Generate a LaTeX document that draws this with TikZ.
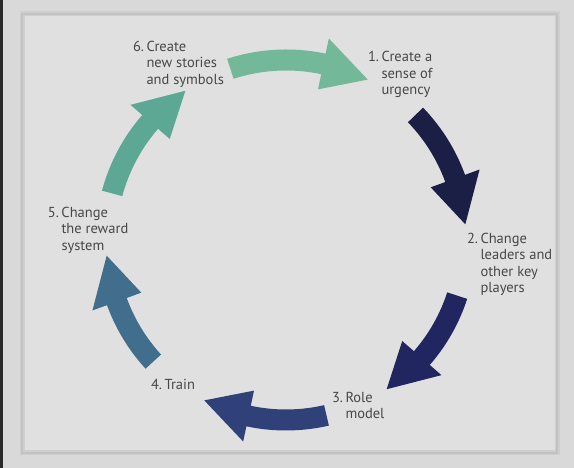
\documentclass[tikz,border=0pt]{standalone}
\usepackage{fontspec}
\setmainfont{PT Sans}
\usetikzlibrary{positioning}

\begin{document}
\begin{tikzpicture}[x=1pt,y=1pt]
\definecolor[named]{fillColor}{rgb}{0.85,0.85,0.85}
\path[use as bounding box,fill=fillColor] (0,0) rectangle (574,468);
\definecolor[named]{fillColor}{rgb}{0.16,0.16,0.16}
\path[fill=fillColor] (0,0) rectangle (2.5,468);
\begin{scope}
\definecolor[named]{drawColor}{rgb}{0.81,0.81,0.81}
\definecolor[named]{fillColor}{rgb}{0.88,0.88,0.88}

\path[draw=drawColor,line width= 5pt,fill=fillColor] ( 22.00, 15.00) rectangle (557.00,454.00);
\definecolor[named]{drawColor}{rgb}{0.76,0.76,0.76}

\path[draw=drawColor,line width= 1.2pt] ( 22.00, 15.00) rectangle (557.00,454.00);
\end{scope}
\begin{scope}[shift={(286,228)}]
\definecolor[named]{fillColor}{rgb}{0.45,0.72,0.60}

\path[fill=fillColor] (108:190.5) arc[start angle=108,end angle=78,radius=190.5] -- (78:206) -- (63:180) -- (78:154) -- (78:169.5) arc[start angle=78,end angle=108,radius=169.5] -- cycle;
\definecolor[named]{fillColor}{rgb}{0.11,0.12,0.27}

\path[fill=fillColor] (44:190.5) arc[start angle=44,end angle=20,radius=190.5] -- (20:206) -- (5:180) -- (20:154) -- (20:169.5) arc[start angle=20,end angle=44,radius=169.5] -- cycle;
\definecolor[named]{fillColor}{rgb}{0.13,0.15,0.38}

\path[fill=fillColor] (-18:190.5) arc[start angle=-18,end angle=-41,radius=190.5] -- (-41:206) -- (-56:180) -- (-41:154) -- (-41:169.5) arc[start angle=-41,end angle=-18,radius=169.5] -- cycle;
\definecolor[named]{fillColor}{rgb}{0.19,0.25,0.47}

\path[fill=fillColor] (-77:190.5) arc[start angle=-77,end angle=-102,radius=190.5] -- (-102:206) -- (-117:180) -- (-102:154) -- (-102:169.5) arc[start angle=-102,end angle=-77,radius=169.5] -- cycle;
\definecolor[named]{fillColor}{rgb}{0.25,0.43,0.55}

\path[fill=fillColor] (222.5:190.5) arc[start angle=222.5,end angle=200,radius=190.5] -- (200:206) -- (185:180) -- (200:154) -- (200:169.5) arc[start angle=200,end angle=222.5,radius=169.5] -- cycle;
\definecolor[named]{fillColor}{rgb}{0.36,0.66,0.58}

\path[fill=fillColor] (165:190.5) arc[start angle=165,end angle=139,radius=190.5] -- (139:206) -- (124:180) -- (139:154) -- (139:169.5) arc[start angle=139,end angle=165,radius=169.5] -- cycle;
\end{scope}
\begin{scope}
\definecolor[named]{drawColor}{rgb}{0.28,0.28,0.28}
\tikzset{stage/.style={text=drawColor,anchor=base west,inner sep=0pt,outer sep=0pt,font=\fontsize{14.5}{16.5}\selectfont}}

\node[stage] (lab1) at (368.00,406.00) {\begin{tabular}[t]{@{}p{13.5pt}@{}l@{}}1.&Create a\\&sense of\\&urgency\end{tabular}};

\node[stage] (lab2) at (467.00,224.50) {\begin{tabular}[t]{@{}p{13.5pt}@{}l@{}}2.&Change\\&leaders and\\&other key\\&players\end{tabular}};

\node[stage] (lab3) at (332.00, 65.50) {\begin{tabular}[t]{@{}p{13.5pt}@{}l@{}}3.&Role\\&model\end{tabular}};

\node[stage] (lab4) at (151.00, 78.50) {\begin{tabular}[t]{@{}p{13.5pt}@{}l@{}}4.&Train\end{tabular}};

\node[stage] (lab5) at ( 48.00,250.50) {\begin{tabular}[t]{@{}p{13.5pt}@{}l@{}}5.&Change\\&the reward\\&system\end{tabular}};

\node[stage] (lab6) at (133.00,416.50) {\begin{tabular}[t]{@{}p{13.5pt}@{}l@{}}6.&Create\\&new stories\\&and symbols\end{tabular}};
\end{scope}
\end{tikzpicture}
\end{document}
